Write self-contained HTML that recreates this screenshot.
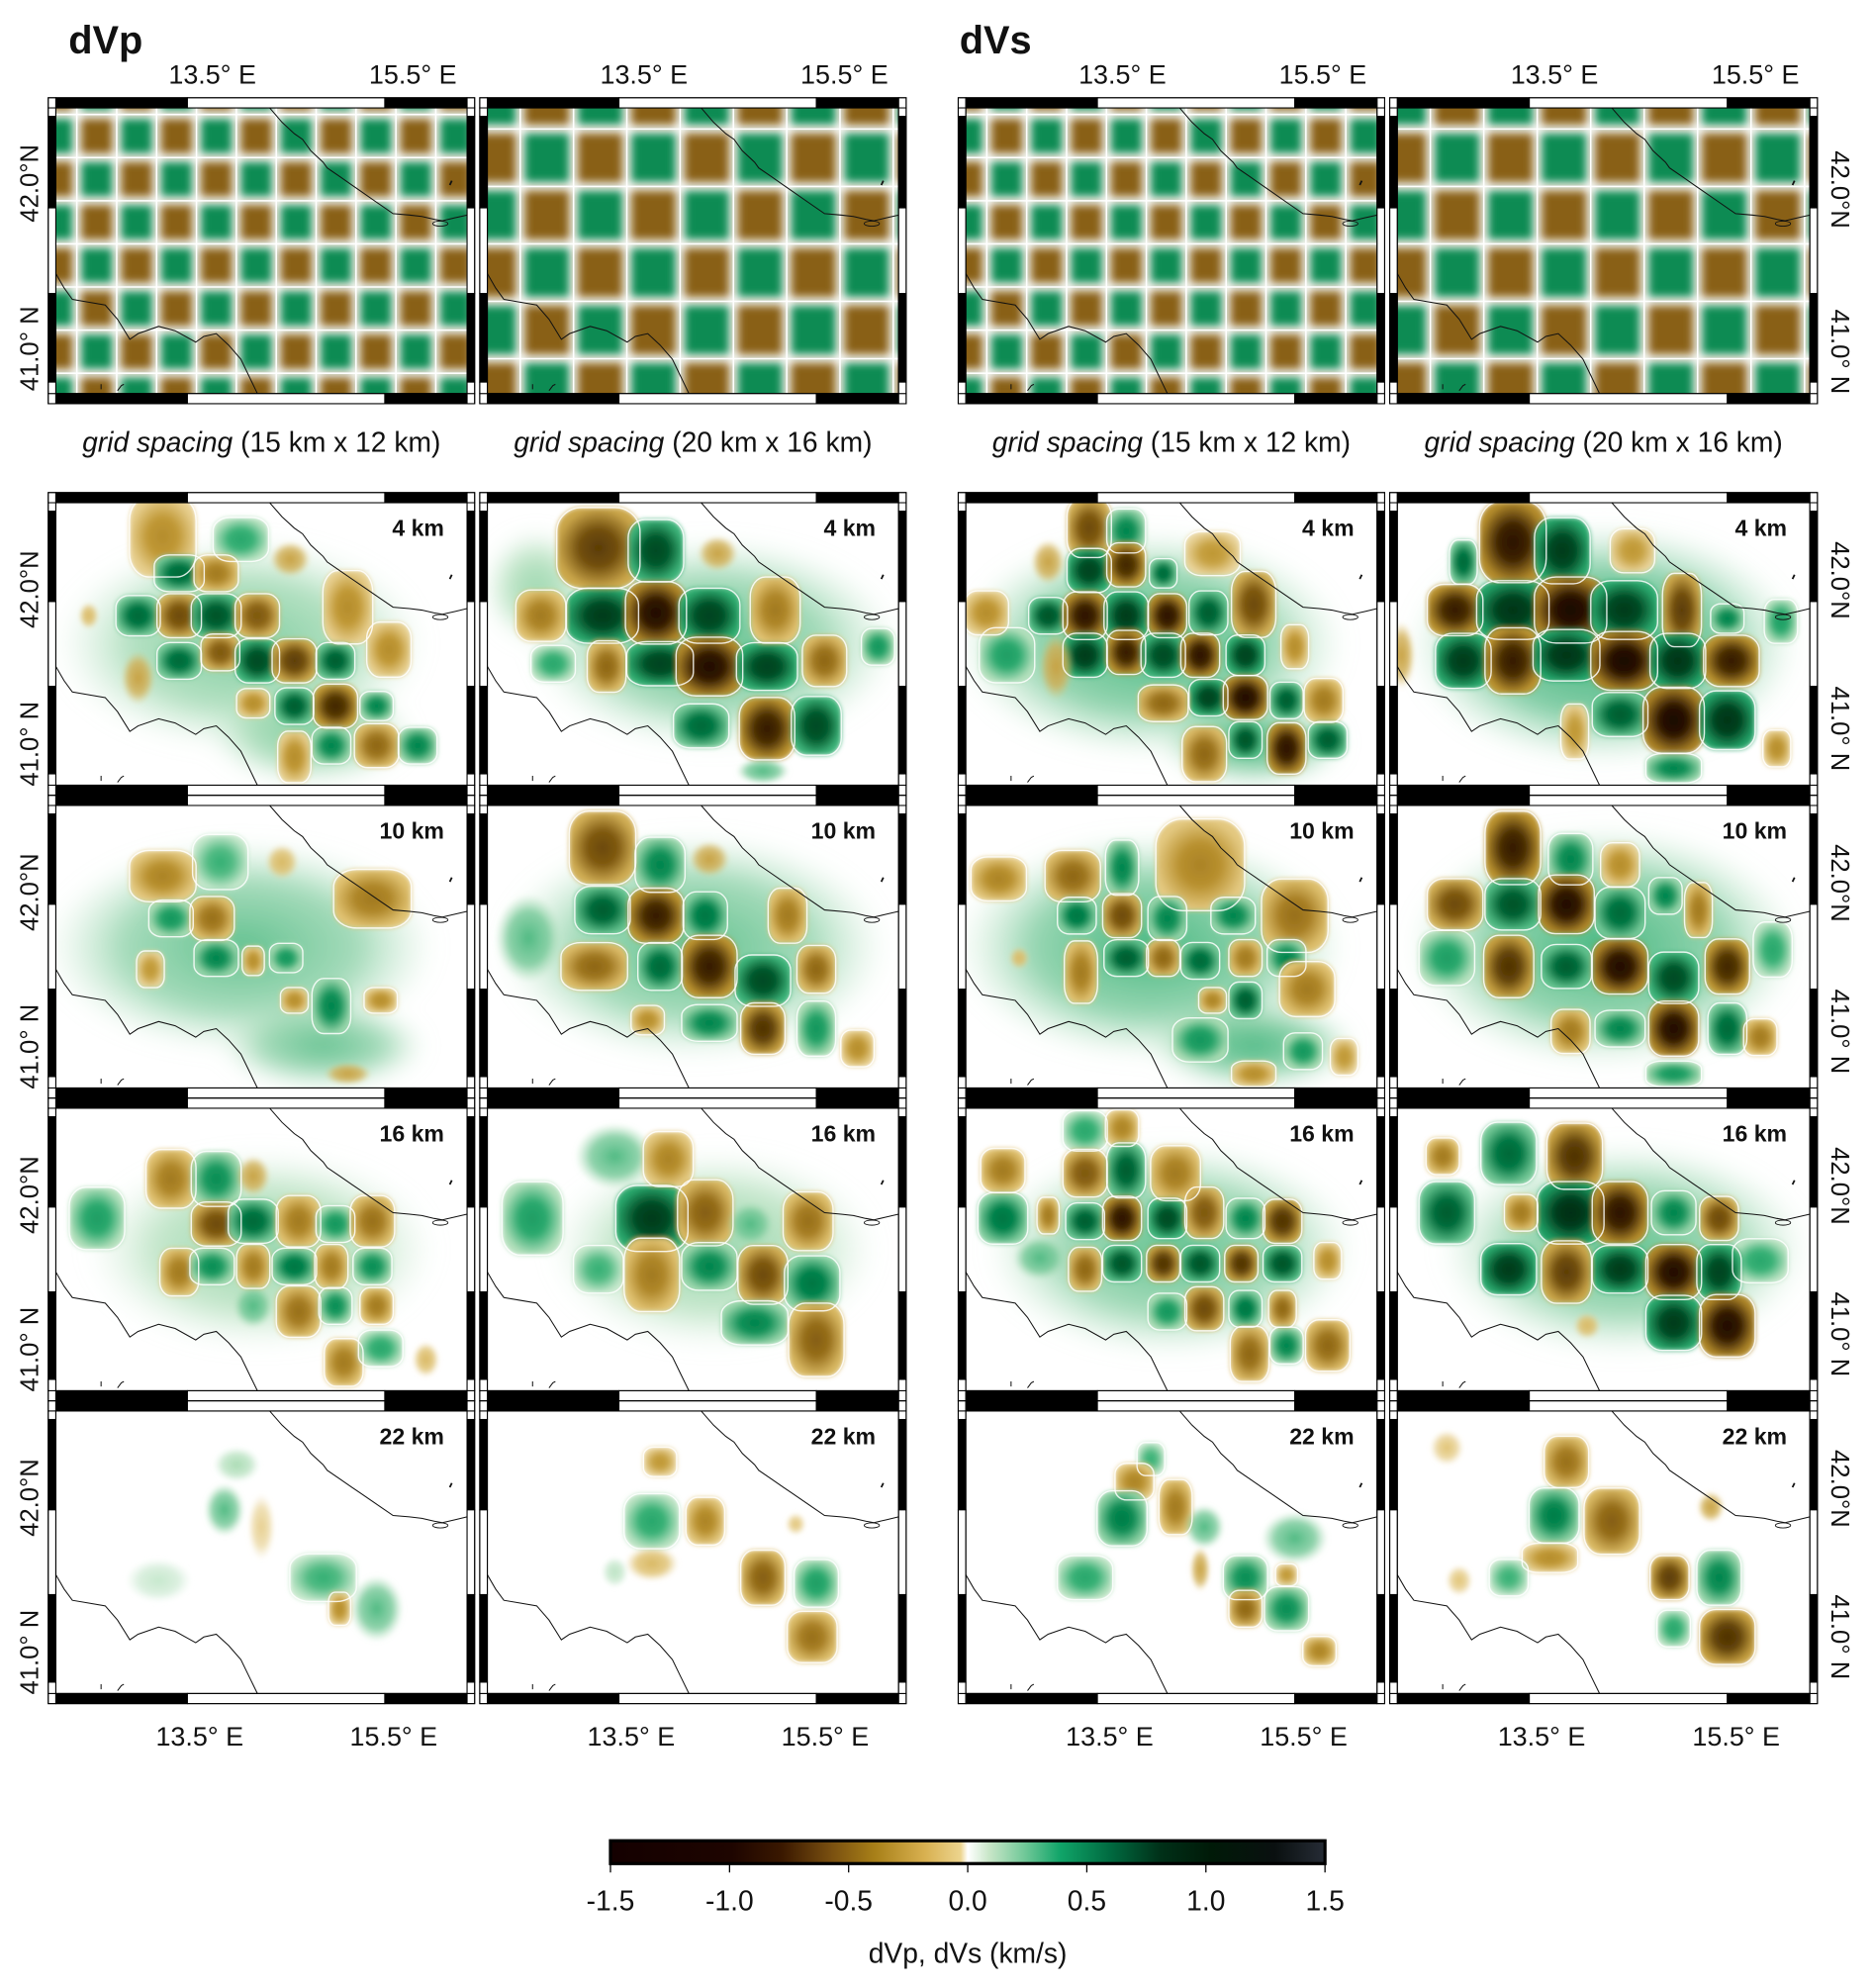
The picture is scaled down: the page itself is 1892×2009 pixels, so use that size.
<!DOCTYPE html>
<html><head><meta charset="utf-8"><title>dVp dVs checkerboard tests</title>
<style>
html,body{margin:0;padding:0;background:#fff;}
svg{display:block;}
text{font-family:"Liberation Sans",Arial,sans-serif;fill:#111;}
</style></head>
<body>
<svg id="fig" xmlns="http://www.w3.org/2000/svg" width="1892" height="2009" viewBox="0 0 1475 1566" preserveAspectRatio="none">
<defs id="defs">
<filter id="soft" x="-5%" y="-5%" width="110%" height="110%"><feGaussianBlur stdDeviation="1.8"/></filter>
<filter id="haze" x="-30%" y="-30%" width="160%" height="160%"><feGaussianBlur stdDeviation="8"/></filter>
<filter id="cb" x="-5%" y="-5%" width="110%" height="110%"><feGaussianBlur stdDeviation="3.6"/></filter>
<linearGradient id="cbar" x1="0" x2="1" y1="0" y2="0">
<stop offset="0" stop-color="#140000"/><stop offset="0.17" stop-color="#1e0500"/><stop offset="0.24" stop-color="#3a1800"/>
<stop offset="0.31" stop-color="#7a5010"/><stop offset="0.37" stop-color="#a88018"/><stop offset="0.44" stop-color="#d8b050"/>
<stop offset="0.49" stop-color="#ecd48e"/><stop offset="0.5" stop-color="#ffffff"/><stop offset="0.53" stop-color="#c8e6c8"/>
<stop offset="0.58" stop-color="#70c898"/><stop offset="0.63" stop-color="#10a468"/><stop offset="0.7" stop-color="#006a40"/>
<stop offset="0.77" stop-color="#003018"/><stop offset="0.84" stop-color="#001a08"/><stop offset="0.93" stop-color="#0a1010"/>
<stop offset="1" stop-color="#262c36"/></linearGradient>
</defs>
<text x="54" y="42" font-size="31" font-weight="bold">dVp</text>
<text x="756" y="42" font-size="31" font-weight="bold">dVs</text>
<g id="panels"></g>
<g id="colorbar"></g>
</svg>
<script>
// ---------- data ----------
const cbTicks = [-1.5, -1.0, -0.5, 0.0, 0.5, 1.0, 1.5];
const cbTickLabels = ["-1.5", "-1.0", "-0.5", "0.0", "0.5", "1.0", "1.5"];
const depthLabels = ["4 km", "10 km", "16 km", "22 km"];
const lonLabels = ["13.5° E", "15.5° E"];
const latLabels = ["42.0°N", "41.0° N"];
const captions = ["grid spacing", " (15 km x 12 km)", " (20 km x 16 km)"];
// checkerboard test grids: [firstLineX, pitchX, firstLineY, pitchY, phase]
const checker15 = [0.051, 0.097, 0.023, 0.151, 0];
const checker20 = [0.080, 0.1296, 0.074, 0.201, 1];
const checkerAmp = [-0.62, 0.55];
// recovered anomalies, each [x, y, width, height, value(km/s)] in normalized map coords
const p4_15 = [[0.45,0.5,0.9,0.75,0.25],[0.62,0.82,0.5,0.35,0.25],[0.45,0.13,0.1,0.12,0.4],
[0.26,0.12,0.12,0.22,-0.4],[0.30,0.25,0.09,0.1,0.8],[0.39,0.25,0.08,0.1,-0.5],[0.2,0.4,0.08,0.11,0.8],[0.30,0.40,0.08,0.12,-0.8],
[0.39,0.40,0.09,0.12,1.0],[0.49,0.40,0.08,0.12,-0.7],[0.71,0.37,0.09,0.2,-0.4],[0.30,0.56,0.08,0.1,0.8],[0.40,0.53,0.07,0.1,-0.7],
[0.49,0.56,0.08,0.12,1.1],[0.58,0.56,0.08,0.12,-0.9],[0.68,0.56,0.07,0.1,0.9],[0.48,0.71,0.06,0.08,-0.4],[0.58,0.72,0.07,0.1,0.9],
[0.68,0.72,0.08,0.12,-1.1],[0.78,0.72,0.06,0.08,0.6],[0.58,0.9,0.06,0.14,-0.4],[0.67,0.86,0.07,0.1,0.6],[0.78,0.86,0.08,0.12,-0.6],
[0.88,0.86,0.07,0.1,0.6],[0.81,0.52,0.08,0.15,-0.4],[0.57,0.2,0.06,0.08,-0.3],[0.2,0.62,0.05,0.12,-0.3],[0.08,0.4,0.03,0.06,-0.2]];
const p4_20 = [[0.55,0.5,0.9,0.75,0.3],[0.12,0.3,0.25,0.4,0.2],
[0.27,0.16,0.15,0.22,-0.9],[0.41,0.17,0.1,0.17,1.1],[0.56,0.18,0.06,0.08,-0.3],[0.13,0.40,0.09,0.14,-0.5],[0.28,0.40,0.13,0.15,1.3],
[0.41,0.39,0.11,0.17,-1.4],[0.54,0.40,0.11,0.15,1.2],[0.70,0.38,0.09,0.18,-0.5],[0.29,0.58,0.07,0.14,-0.6],[0.42,0.57,0.12,0.12,1.2],
[0.54,0.58,0.12,0.16,-1.4],[0.68,0.58,0.11,0.13,1.2],[0.82,0.56,0.08,0.14,-0.6],[0.95,0.51,0.06,0.1,0.5],[0.16,0.57,0.08,0.1,0.4],
[0.52,0.79,0.1,0.12,0.8],[0.68,0.8,0.1,0.17,-1.2],[0.8,0.79,0.09,0.16,1.1],[0.67,0.95,0.08,0.06,0.3]];
const p10_15 = [[0.45,0.5,0.95,0.75,0.3],[0.65,0.85,0.5,0.3,0.3],[0.40,0.2,0.1,0.15,0.35],
[0.26,0.25,0.12,0.14,-0.45],[0.28,0.40,0.08,0.1,0.5],[0.38,0.40,0.08,0.12,-0.55],[0.77,0.33,0.14,0.16,-0.5],[0.23,0.58,0.05,0.1,-0.35],
[0.39,0.54,0.08,0.1,0.6],[0.48,0.55,0.04,0.08,-0.4],[0.56,0.54,0.06,0.08,0.5],[0.58,0.69,0.05,0.07,-0.4],[0.67,0.71,0.07,0.15,0.6],
[0.79,0.69,0.06,0.07,-0.4],[0.55,0.2,0.05,0.08,-0.2],[0.71,0.95,0.07,0.05,-0.3]];
const p10_20 = [[0.5,0.5,0.95,0.8,0.3],[0.1,0.47,0.1,0.2,0.3],
[0.28,0.15,0.12,0.2,-0.8],[0.42,0.21,0.09,0.15,0.6],[0.54,0.19,0.06,0.08,-0.3],[0.28,0.37,0.1,0.13,0.9],[0.41,0.39,0.1,0.15,-1.2],
[0.53,0.39,0.08,0.13,0.7],[0.73,0.39,0.07,0.15,-0.5],[0.26,0.57,0.12,0.13,-0.6],[0.42,0.57,0.08,0.13,0.8],[0.54,0.57,0.1,0.17,-1.2],
[0.67,0.62,0.1,0.14,1.1],[0.8,0.58,0.07,0.13,-0.6],[0.54,0.77,0.1,0.1,0.6],[0.67,0.79,0.08,0.14,-1.0],[0.8,0.79,0.07,0.15,0.5],
[0.39,0.76,0.06,0.08,-0.4],[0.9,0.86,0.06,0.1,-0.4]];
const p16_15 = [[0.5,0.5,0.85,0.7,0.2],[0.1,0.39,0.1,0.17,0.45],
[0.28,0.25,0.09,0.16,-0.5],[0.39,0.25,0.09,0.15,0.55],[0.48,0.24,0.05,0.09,-0.3],[0.39,0.41,0.09,0.12,-0.8],[0.48,0.40,0.09,0.12,0.8],
[0.59,0.40,0.08,0.14,-0.5],[0.68,0.41,0.07,0.1,0.5],[0.77,0.4,0.08,0.14,-0.55],[0.30,0.58,0.07,0.13,-0.5],[0.38,0.56,0.08,0.1,0.55],
[0.48,0.56,0.06,0.12,-0.5],[0.58,0.56,0.08,0.1,0.7],[0.67,0.56,0.06,0.12,-0.5],[0.77,0.56,0.07,0.1,0.55],[0.48,0.7,0.06,0.1,0.3],
[0.59,0.72,0.08,0.14,-0.55],[0.68,0.70,0.06,0.1,0.55],[0.78,0.70,0.06,0.1,-0.5],[0.70,0.9,0.07,0.13,-0.5],[0.79,0.85,0.08,0.1,0.4],
[0.9,0.89,0.04,0.08,-0.2]];
const p16_20 = [[0.55,0.5,0.8,0.7,0.2],[0.11,0.39,0.11,0.2,0.45],[0.31,0.17,0.12,0.15,0.3],
[0.44,0.18,0.09,0.15,-0.45],[0.40,0.39,0.13,0.18,1.3],[0.53,0.37,0.1,0.18,-0.65],[0.64,0.41,0.07,0.1,0.3],[0.78,0.40,0.09,0.16,-0.55],
[0.27,0.57,0.09,0.13,0.35],[0.40,0.59,0.1,0.2,-0.5],[0.54,0.56,0.1,0.13,0.6],[0.67,0.59,0.09,0.16,-0.8],[0.79,0.62,0.1,0.15,0.7],
[0.65,0.76,0.12,0.12,0.6],[0.8,0.82,0.1,0.2,-0.65]];
const p22_15 = [[0.25,0.6,0.1,0.1,0.1],[0.44,0.19,0.07,0.08,0.15],[0.41,0.35,0.06,0.12,0.3],[0.50,0.41,0.04,0.15,-0.12],
[0.65,0.59,0.12,0.13,0.35],[0.78,0.70,0.08,0.15,0.3],[0.69,0.7,0.04,0.09,-0.4]];
const p22_20 = [[0.42,0.18,0.06,0.08,-0.35],[0.40,0.54,0.08,0.08,-0.2],[0.31,0.57,0.04,0.07,0.12],[0.40,0.39,0.1,0.15,0.4],
[0.53,0.39,0.07,0.13,-0.45],[0.67,0.59,0.08,0.15,-0.65],[0.8,0.61,0.08,0.13,0.45],[0.79,0.8,0.09,0.14,-0.55],[0.75,0.40,0.03,0.05,-0.15]];
const s4_15 = [[0.45,0.5,0.95,0.8,0.35],[0.7,0.85,0.45,0.3,0.35],[0.1,0.54,0.1,0.15,0.45],
[0.30,0.09,0.08,0.16,-0.8],[0.39,0.10,0.07,0.12,0.6],[0.2,0.21,0.05,0.1,-0.3],[0.30,0.24,0.08,0.12,1.2],[0.39,0.22,0.07,0.12,-1.1],
[0.48,0.25,0.05,0.08,0.8],[0.6,0.18,0.1,0.12,-0.35],[0.05,0.39,0.08,0.12,-0.4],[0.2,0.40,0.07,0.1,1.0],[0.29,0.40,0.08,0.13,-1.3],
[0.39,0.40,0.08,0.13,1.3],[0.49,0.40,0.07,0.12,-1.3],[0.59,0.39,0.07,0.12,0.9],[0.70,0.36,0.08,0.18,-0.8],[0.29,0.54,0.08,0.12,1.3],
[0.39,0.53,0.07,0.12,-1.2],[0.48,0.54,0.08,0.12,1.1],[0.57,0.54,0.07,0.12,-1.3],[0.68,0.54,0.07,0.11,1.2],[0.8,0.51,0.05,0.12,-0.4],
[0.48,0.71,0.09,0.1,-0.6],[0.59,0.69,0.07,0.1,1.2],[0.68,0.69,0.08,0.12,-1.4],[0.78,0.7,0.06,0.1,0.9],[0.87,0.7,0.07,0.12,-0.5],
[0.58,0.89,0.08,0.15,-0.6],[0.68,0.84,0.06,0.1,1.0],[0.78,0.87,0.07,0.14,-1.3],[0.88,0.84,0.07,0.1,0.9],[0.22,0.58,0.05,0.15,-0.3]];
const s4_20 = [[0.5,0.5,0.95,0.85,0.4],
[0.16,0.21,0.05,0.12,0.8],[0.28,0.14,0.12,0.22,-1.3],[0.4,0.17,0.1,0.18,1.3],[0.57,0.17,0.08,0.12,-0.35],[0.14,0.38,0.1,0.14,-1.2],
[0.28,0.38,0.13,0.16,1.4],[0.42,0.38,0.13,0.18,-1.5],[0.55,0.38,0.12,0.16,1.3],[0.69,0.38,0.07,0.2,-0.9],[0.8,0.41,0.06,0.08,0.6],
[0.93,0.42,0.06,0.12,0.45],[0.16,0.56,0.1,0.15,1.3],[0.28,0.56,0.1,0.18,-1.2],[0.41,0.54,0.12,0.14,1.4],[0.55,0.56,0.12,0.16,-1.5],
[0.68,0.56,0.1,0.15,1.4],[0.81,0.56,0.1,0.14,-1.2],[0.54,0.75,0.1,0.12,0.9],[0.67,0.77,0.11,0.18,-1.5],[0.8,0.77,0.1,0.16,1.4],
[0.43,0.81,0.05,0.15,-0.35],[0.67,0.94,0.1,0.08,0.6],[0.92,0.87,0.05,0.1,-0.4],[0.01,0.54,0.04,0.15,-0.3]];
const s10_15 = [[0.45,0.5,0.95,0.8,0.35],[0.7,0.85,0.5,0.3,0.35],
[0.08,0.26,0.1,0.12,-0.45],[0.26,0.25,0.1,0.14,-0.6],[0.38,0.22,0.06,0.15,0.6],[0.57,0.21,0.16,0.25,-0.45],[0.8,0.39,0.12,0.2,-0.55],
[0.27,0.39,0.07,0.1,0.7],[0.38,0.39,0.07,0.12,-0.8],[0.49,0.4,0.07,0.12,0.6],[0.65,0.39,0.08,0.1,0.6],[0.28,0.59,0.06,0.17,-0.5],
[0.39,0.54,0.08,0.1,0.9],[0.48,0.54,0.06,0.1,-0.6],[0.57,0.55,0.07,0.1,0.8],[0.68,0.54,0.06,0.1,-0.5],[0.78,0.54,0.07,0.1,0.6],
[0.83,0.65,0.1,0.15,-0.5],[0.60,0.69,0.05,0.07,-0.45],[0.68,0.69,0.06,0.1,0.9],[0.57,0.83,0.1,0.12,0.5],[0.7,0.95,0.08,0.07,-0.4],
[0.92,0.89,0.05,0.1,-0.35],[0.82,0.87,0.07,0.1,0.5],[0.13,0.54,0.03,0.05,-0.2]];
const s10_20 = [[0.5,0.5,0.95,0.85,0.35],[0.12,0.54,0.1,0.15,0.45],
[0.28,0.15,0.1,0.2,-1.2],[0.42,0.19,0.08,0.14,0.6],[0.54,0.21,0.07,0.12,-0.4],[0.14,0.35,0.1,0.14,-0.8],[0.28,0.35,0.1,0.14,1.0],
[0.41,0.35,0.1,0.16,-1.4],[0.54,0.38,0.09,0.14,0.8],[0.65,0.32,0.06,0.1,0.6],[0.73,0.37,0.05,0.15,-0.5],[0.27,0.57,0.09,0.17,-1.0],
[0.41,0.57,0.09,0.12,0.9],[0.54,0.57,0.1,0.15,-1.4],[0.67,0.61,0.09,0.14,1.1],[0.8,0.57,0.08,0.15,-1.1],[0.91,0.51,0.07,0.15,0.4],
[0.54,0.79,0.09,0.1,0.6],[0.67,0.79,0.09,0.15,-1.4],[0.8,0.79,0.07,0.14,0.8],[0.42,0.8,0.07,0.12,-0.5],[0.88,0.82,0.06,0.1,-0.5],
[0.67,0.95,0.1,0.07,0.5]];
const s16_15 = [[0.5,0.5,0.9,0.75,0.3],[0.18,0.53,0.08,0.1,0.3],
[0.29,0.08,0.08,0.11,0.4],[0.38,0.07,0.06,0.1,-0.45],[0.09,0.22,0.08,0.12,-0.5],[0.29,0.23,0.08,0.13,-0.7],[0.39,0.22,0.07,0.15,0.9],
[0.51,0.23,0.09,0.15,-0.5],[0.09,0.39,0.09,0.14,0.7],[0.2,0.38,0.04,0.1,-0.5],[0.29,0.40,0.07,0.1,0.9],[0.38,0.39,0.07,0.12,-1.3],
[0.49,0.39,0.07,0.11,1.1],[0.58,0.37,0.07,0.14,-0.7],[0.68,0.39,0.07,0.11,0.6],[0.77,0.4,0.07,0.12,-1.0],[0.38,0.55,0.07,0.1,1.0],
[0.48,0.55,0.06,0.1,-1.0],[0.57,0.55,0.07,0.1,1.0],[0.67,0.55,0.06,0.1,-1.0],[0.77,0.55,0.07,0.1,1.0],[0.29,0.57,0.06,0.12,-0.6],
[0.88,0.54,0.05,0.1,-0.4],[0.49,0.72,0.07,0.1,0.5],[0.58,0.71,0.07,0.12,-0.8],[0.68,0.71,0.06,0.1,0.7],[0.77,0.71,0.05,0.1,-0.6],
[0.69,0.87,0.07,0.15,-0.6],[0.78,0.84,0.06,0.1,0.6],[0.88,0.84,0.08,0.14,-0.6]];
const s16_20 = [[0.55,0.5,0.9,0.75,0.3],[0.88,0.54,0.1,0.12,0.4],
[0.11,0.17,0.06,0.1,-0.5],[0.27,0.16,0.1,0.17,0.8],[0.43,0.17,0.1,0.18,-1.0],[0.12,0.37,0.1,0.17,0.9],[0.3,0.37,0.06,0.1,-0.5],
[0.42,0.37,0.12,0.17,1.5],[0.54,0.37,0.1,0.17,-1.3],[0.67,0.37,0.08,0.12,0.6],[0.78,0.39,0.07,0.12,-0.8],[0.27,0.57,0.1,0.14,1.3],
[0.41,0.58,0.09,0.17,-0.9],[0.54,0.57,0.1,0.13,1.3],[0.67,0.58,0.1,0.15,-1.4],[0.78,0.58,0.08,0.15,1.2],[0.67,0.76,0.1,0.15,1.3],
[0.8,0.77,0.1,0.17,-1.4],[0.46,0.77,0.04,0.06,-0.2]];
const s22_15 = [[0.45,0.17,0.05,0.09,0.35],[0.41,0.25,0.07,0.1,-0.45],[0.51,0.34,0.06,0.15,-0.5],[0.38,0.38,0.09,0.15,0.65],
[0.29,0.59,0.1,0.12,0.4],[0.58,0.41,0.06,0.1,0.3],[0.8,0.45,0.1,0.12,0.3],[0.57,0.56,0.03,0.1,-0.3],[0.68,0.59,0.08,0.12,0.55],
[0.78,0.58,0.04,0.06,-0.35],[0.68,0.7,0.06,0.1,-0.6],[0.78,0.7,0.08,0.12,0.55],[0.86,0.85,0.06,0.08,-0.45]];
const s22_20 = [[0.12,0.13,0.05,0.08,-0.15],[0.15,0.6,0.04,0.07,-0.15],[0.41,0.18,0.08,0.14,-0.55],[0.37,0.52,0.1,0.08,-0.4],
[0.38,0.37,0.09,0.15,0.65],[0.52,0.39,0.1,0.18,-0.65],[0.27,0.59,0.07,0.1,0.35],[0.66,0.59,0.07,0.12,-0.9],[0.78,0.59,0.08,0.15,0.6],
[0.67,0.77,0.06,0.1,0.4],[0.8,0.8,0.1,0.15,-1.0],[0.76,0.34,0.04,0.07,-0.3]];
const lowerData = [[p4_15,p4_20,s4_15,s4_20],[p10_15,p10_20,s10_15,s10_20],[p16_15,p16_20,s16_15,s16_20],[p22_15,p22_20,s22_15,s22_20]];

// ---------- geometry ----------
const NS = "http://www.w3.org/2000/svg";
const colX = [[38,374],[378,714],[755,1091],[1095,1432]];
const topRowY = [77,318];
const rowTop0 = 388, rowH = 238.5;
const coastA = [[0.52,0],[0.55,0.05],[0.58,0.09],[0.60,0.11],[0.62,0.15],[0.65,0.19],[0.66,0.21],[0.69,0.24],[0.72,0.27],[0.74,0.29],[0.78,0.33],[0.82,0.37],[0.86,0.375],[0.89,0.38],[0.92,0.39],[0.94,0.395],[0.97,0.385],[1,0.375]];
const coastB = [[0,0.58],[0.02,0.63],[0.04,0.67],[0.08,0.68],[0.12,0.69],[0.15,0.74],[0.18,0.81],[0.2,0.79],[0.25,0.765],[0.29,0.78],[0.34,0.82],[0.36,0.80],[0.39,0.79],[0.42,0.83],[0.45,0.88],[0.47,0.94],[0.49,1]];
const cstops = [[-1.5,[25,5,0]],[-1.2,[50,25,0]],[-0.9,[90,60,5]],[-0.6,[140,100,20]],[-0.35,[190,150,50]],[-0.15,[225,195,115]],[0,[255,255,255]],[0.15,[170,220,180]],[0.35,[50,175,115]],[0.6,[0,130,75]],[0.9,[0,90,45]],[1.2,[0,65,30]],[1.5,[0,45,20]]];
function cmap(v){
  v=Math.max(-1.5,Math.min(1.5,v));
  for(let i=0;i<cstops.length-1;i++){
    const a=cstops[i],b=cstops[i+1];
    if(v>=a[0]&&v<=b[0]){const t=(v-a[0])/(b[0]-a[0]);
      const c=a[1].map((x,k)=>Math.round(x+(b[1][k]-x)*t));return `rgb(${c[0]},${c[1]},${c[2]})`;}
  }
  return "#fff";
}
function mk(tag,attrs,parent){const e=document.createElementNS(NS,tag);for(const k in attrs)e.setAttribute(k,attrs[k]);if(parent)parent.appendChild(e);return e;}
const defs=document.getElementById('defs');
const root=document.getElementById('panels');
let gid=0;

function mapRect(x0,x1,y0,y1){return {x:x0+6,y:y0+8,w:(x1-x0)-12,h:(y1-y0)-16};}

function drawCoast(g,m){
  const pa=coastA.map(p=>`${(m.x+p[0]*m.w).toFixed(1)},${(m.y+p[1]*m.h).toFixed(1)}`).join(' L');
  const pb=coastB.map(p=>`${(m.x+p[0]*m.w).toFixed(1)},${(m.y+p[1]*m.h).toFixed(1)}`).join(' L');
  const c=mk('path',{d:'M'+pa+' M'+pb,fill:'none',stroke:'#111','stroke-width':0.8},g);
  
  
  mk('ellipse',{cx:m.x+0.935*m.w,cy:m.y+0.405*m.h,rx:6,ry:2,fill:'none',stroke:'#111','stroke-width':0.7},g);
  mk('line',{x1:m.x+0.958*m.w,y1:m.y+0.27*m.h,x2:m.x+0.963*m.w,y2:m.y+0.255*m.h,stroke:'#111','stroke-width':1.4},g);
  mk('path',{d:`M${m.x+0.11*m.w},${m.y+0.985*m.h} l0,-4 M${m.x+0.15*m.w},${m.y+0.99*m.h} l3,-4 l2,-1`,stroke:'#111','stroke-width':0.8,fill:'none'},g);
}

function drawFrame(g,x0,x1,y0,y1){
  const m=mapRect(x0,x1,y0,y1);
  const f=mk('g',{},g);
  
  
  const hseg=[[0,0.32,1],[0.32,0.80,0],[0.80,1,1]];
  const vseg=[[0,0.03,0],[0.03,0.35,1],[0.35,0.65,0],[0.65,0.96,1],[0.96,1,0]];
  for(const yy of [y0,y1-8]){
    mk('rect',{x:x0,y:yy,width:6,height:8,fill:'#fff',stroke:'#000','stroke-width':0.8},f);
    mk('rect',{x:x1-6,y:yy,width:6,height:8,fill:'#fff',stroke:'#000','stroke-width':0.8},f);
    for(const s of hseg) mk('rect',{x:m.x+s[0]*m.w,y:yy,width:(s[1]-s[0])*m.w,height:8,fill:s[2]?'#000':'#fff',stroke:'#000','stroke-width':0.8},f);
  }
  for(const xx of [x0,x1-6]){
    for(const s of vseg) mk('rect',{x:xx,y:m.y+s[0]*m.h,width:6,height:(s[1]-s[0])*m.h,fill:s[2]?'#000':'#fff',stroke:'#000','stroke-width':0.8},f);
  }
  mk('rect',{x:m.x,y:m.y,width:m.w,height:m.h,fill:'none',stroke:'#000','stroke-width':0.8},f);
  mk('rect',{x:x0,y:y0,width:x1-x0,height:y1-y0,fill:'none',stroke:'#000','stroke-width':0.8},f);
}

function clipFor(m){
  const id='clip'+(gid++);
  const cp=mk('clipPath',{id:id},defs);
  mk('rect',{x:m.x,y:m.y,width:m.w,height:m.h},cp);
  return id;
}

function drawChecker(g,m,spec){
  const cid=clipFor(m);
  const cg=mk('g',{'clip-path':`url(#${cid})`},g);
  mk('rect',{x:m.x,y:m.y,width:m.w,height:m.h,fill:'#fff'},cg);
  const cells=mk('g',{filter:'url(#cb)'},cg);
  const [fx,px,fy,py,ph]=spec;
  const gap=3.2;
  for(let j=-1;(fy+j*py)<1;j++){
    for(let i=-1;(fx+i*px)<1;i++){
      const brown=((i+j+ph)%2+2)%2===0;
      const r=mk('rect',{x:m.x+(fx+i*px)*m.w+gap,y:m.y+(fy+j*py)*m.h+gap,width:px*m.w-2*gap,height:py*m.h-2*gap,fill:cmap(brown?checkerAmp[0]:checkerAmp[1])},cells);
      
      
    }
  }
  for(let i=-1;(fx+i*px)<1;i++){const x=m.x+(fx+i*px)*m.w;mk('line',{x1:x,x2:x,y1:m.y,y2:m.y+m.h,stroke:'#fff','stroke-width':1.2},cg);}
  for(let j=-1;(fy+j*py)<1;j++){const y=m.y+(fy+j*py)*m.h;mk('line',{x1:m.x,x2:m.x+m.w,y1:y,y2:y,stroke:'#fff','stroke-width':1.2},cg);}
  drawCoast(cg,m);
}

function drawBlobs(g,m,data){
  const cid=clipFor(m);
  const cg=mk('g',{'clip-path':`url(#${cid})`},g);
  mk('rect',{x:m.x,y:m.y,width:m.w,height:m.h,fill:'#fff'},cg);
  const hz=mk('g',{filter:'url(#haze)'},cg);
  const bl=mk('g',{filter:'url(#soft)'},cg);
  const ol=mk('g',{},cg);
  for(const b of data){
    const [x,y,w,h,v]=b;
    const cx=m.x+x*m.w, cy=m.y+y*m.h;
    const id='rg'+(gid++);
    const rg=mk('radialGradient',{id:id,cx:'50%',cy:'50%',r:'50%'},defs);
    if(w>=0.25){
      const W=w*m.w, H=h*m.h;
      mk('stop',{offset:'0','stop-color':cmap(v),'stop-opacity':0.9},rg);
      mk('stop',{offset:'0.6','stop-color':cmap(v*0.75),'stop-opacity':0.7},rg);
      mk('stop',{offset:'1','stop-color':cmap(v*0.4),'stop-opacity':0},rg);
      const e=mk('ellipse',{cx:cx,cy:cy,rx:W*0.5,ry:H*0.5,fill:`url(#${id})`},hz);
      
      
    } else if(Math.abs(v)<0.35){
      const W=w*m.w*1.35, H=h*m.h*1.3;
      mk('stop',{offset:'0','stop-color':cmap(v),'stop-opacity':1},rg);
      mk('stop',{offset:'0.6','stop-color':cmap(v*0.8),'stop-opacity':0.8},rg);
      mk('stop',{offset:'1','stop-color':cmap(v*0.5),'stop-opacity':0},rg);
      const e=mk('ellipse',{cx:cx,cy:cy,rx:W*0.6,ry:H*0.6,fill:`url(#${id})`},bl);
      
      
    } else {
      const W=w*m.w*1.35, H=h*m.h*1.3;
      mk('stop',{offset:'0','stop-color':cmap(v)},rg);
      mk('stop',{offset:'0.45','stop-color':cmap(v*0.85)},rg);
      mk('stop',{offset:'1','stop-color':cmap(v*0.3)},rg);
      const r=mk('rect',{x:cx-W/2,y:cy-H/2,width:W,height:H,rx:W*0.3,ry:H*0.3,fill:`url(#${id})`},bl);
      
      
      mk('rect',{x:cx-W/2,y:cy-H/2,width:W,height:H,rx:W*0.3,ry:H*0.3,fill:'none',stroke:'#fff','stroke-width':1.1,'stroke-opacity':0.85},ol);
    }
  }
  drawCoast(cg,m);
}

function txt(parent,x,y,s,size,attrs,name){
  const t=mk('text',Object.assign({x:x,y:y,'font-size':size},attrs||{}),parent);
  t.textContent=s;
  
  
  return t;
}

// ----- top row checkerboards -----
for(let c=0;c<4;c++){
  const [x0,x1]=colX[c];const [y0,y1]=topRowY;
  const g=mk('g',{},root);
  
  
  const m=mapRect(x0,x1,y0,y1);
  drawChecker(g,m,c%2===0?checker15:checker20);
  drawFrame(g,x0,x1,y0,y1);
  const w=x1-x0;
  txt(root,x0+0.385*w,66,lonLabels[0],21,{'text-anchor':'middle'},'lon-tick-label-top');
  txt(root,x0+0.855*w,66,lonLabels[1],21,{'text-anchor':'middle'},'lon-tick-label-top');
  const cap=mk('text',{x:(x0+x1)/2,y:356,'font-size':22,'text-anchor':'middle'},root);
  
  
  const ts=mk('tspan',{'font-style':'italic'},cap);ts.textContent=captions[0];
  const ts2=mk('tspan',{},cap);ts2.textContent=(c%2===0?captions[1]:captions[2]);
}
// ----- lower rows -----
for(let r=0;r<4;r++){
  const y0=rowTop0+r*rowH,y1=y0+rowH;
  for(let c=0;c<4;c++){
    const [x0,x1]=colX[c];
    const g=mk('g',{},root);
    
    
    const m=mapRect(x0,x1,y0,y1);
    drawBlobs(g,m,lowerData[r][c]);
    drawFrame(g,x0,x1,y0,y1);
    txt(g,m.x+m.w-18,m.y+26,depthLabels[r],18,{'text-anchor':'end','font-weight':'bold'},'depth-label');
  }
}
// bottom lon labels
for(let c=0;c<4;c++){
  const [x0,x1]=colX[c];const w=x1-x0;
  txt(root,x0+0.355*w,1375,lonLabels[0],21,{'text-anchor':'middle'},'lon-tick-label-bottom');
  txt(root,x0+0.81*w,1375,lonLabels[1],21,{'text-anchor':'middle'},'lon-tick-label-bottom');
}
// lat labels
function latPair(y0,h,fa,fb,left){
  const x=left?30:1443;
  const rot=left?-90:90;
  for(const [f,s] of [[fa,latLabels[0]],[fb,latLabels[1]]]){
    const y=y0+f*h;
    txt(root,x,y,s,20,{'text-anchor':'middle',transform:`rotate(${rot} ${x} ${y})`},'lat-tick-label');
  }
}
latPair(77,241,0.28,0.82,true);latPair(77,241,0.30,0.83,false);
for(let r=0;r<4;r++){latPair(rowTop0+r*rowH,rowH,0.32,0.83,true);latPair(rowTop0+r*rowH,rowH,0.29,0.78,false);}

// ----- colorbar -----
const cb=document.getElementById('colorbar');
const cbx0=481,cbx1=1044,cby0=1450,cby1=1468;
function cbX(v){return cbx0+(v-cbTicks[0])/(cbTicks[cbTicks.length-1]-cbTicks[0])*(cbx1-cbx0);}
mk('rect',{x:cbx0,y:cby0,width:cbx1-cbx0,height:cby1-cby0,fill:'url(#cbar)',stroke:'#000','stroke-width':2.5},cb);
cbTicks.forEach((v,i)=>{
  const x=cbX(v);
  mk('line',{x1:x,x2:x,y1:cby1,y2:cby1+7,stroke:'#000','stroke-width':1},cb);
  txt(cb,x,1505,cbTickLabels[i],22,{'text-anchor':'middle'},'colorbar-tick-label');
});
txt(cb,(cbx0+cbx1)/2,1546,'dVp, dVs (km/s)',22,{'text-anchor':'middle'},'colorbar-title');
</script>
</body></html>
